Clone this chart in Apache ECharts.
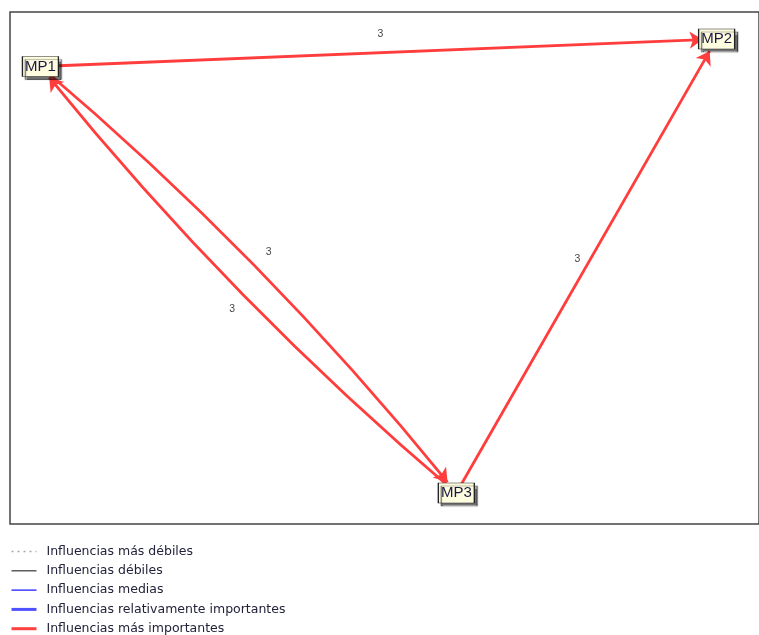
<!DOCTYPE html>
<html>
<head>
<meta charset="utf-8">
<script src="https://cdn.jsdelivr.net/npm/echarts@6/dist/echarts.min.js"></script>
<style>
html,body{margin:0;padding:0;background:#fff;}
#chart{width:759px;height:635px;}
</style>
</head>
<body>
<div id="chart"></div>
<script>
// ---- data ----
const nodeNames = ['MP1', 'MP2', 'MP3'];
const nodeX = [30.5, 708.5, 447.5];   // position in plot units (frame space)
const nodeY = [54.5, 27, 481];
const edgeSource = ['MP1', 'MP3', 'MP1', 'MP3'];
const edgeTarget = ['MP2', 'MP2', 'MP3', 'MP1'];
const edgeValue = [3, 3, 3, 3];
const legendNames = [
  'Influencias más débiles',
  'Influencias débiles',
  'Influencias medias',
  'Influencias relativamente importantes',
  'Influencias más importantes'
];

// ---- styles ----
const edgeCurve = [0, 0, 0.048, 0.048];
const labelOffset = [[2, -19], [-9, -7], [10, -18], [-6, 19]];
const legendLineStyles = [
  {color: '#a8a8a8', width: 1.3, type: [2, 4]},
  {color: '#444444', width: 1.3, type: 'solid'},
  {color: '#1f1fff', width: 1.3, type: 'solid'},
  {color: '#5050ff', width: 3, type: 'solid'},
  {color: '#ff4040', width: 3, type: 'solid'}
];
const RED = '#ff3d3d';

const chart = echarts.init(document.getElementById('chart'), null, {renderer: 'canvas'});

const nodes = nodeNames.map((n, i) => ({name: n, value: [nodeX[i], nodeY[i]]}));
const links = edgeSource.map((s, i) => ({
  source: s, target: edgeTarget[i], value: edgeValue[i],
  lineStyle: {curveness: edgeCurve[i]}
}));

// edge label anchor: midpoint of the (possibly curved) edge, computed from node data
function pos(name) { const i = nodeNames.indexOf(name); return [nodeX[i], nodeY[i]]; }
const labelData = edgeSource.map((s, i) => {
  const p1 = pos(s), p2 = pos(edgeTarget[i]);
  const c = edgeCurve[i];
  const mx = (p1[0] + p2[0]) / 2, my = (p1[1] + p2[1]) / 2;
  const cx = mx - (p1[1] - p2[1]) * c, cy = my - (p2[0] - p1[0]) * c;
  return {
    value: [mx + 0.5 * (cx - mx), my + 0.5 * (cy - my), edgeValue[i]],
    label: {offset: labelOffset[i]}
  };
});

const legendSeries = legendNames.map((n, i) => ({
  name: n, type: 'line', data: [], symbol: 'none',
  color: legendLineStyles[i].color,
  lineStyle: legendLineStyles[i], itemStyle: {color: legendLineStyles[i].color}
}));

chart.setOption({
  animation: false,
  backgroundColor: '#fff',
  grid: {left: 10, top: 12, right: -2, bottom: 111, show: true,
         borderColor: '#444', borderWidth: 1.5, backgroundColor: 'transparent'},
  xAxis: {type: 'value', min: 0, max: 751, show: false},
  yAxis: {type: 'value', min: 0, max: 512, inverse: true, show: false},
  legend: {
    orient: 'vertical', left: 10, top: 545, height: 130, padding: 0,
    itemWidth: 25, itemHeight: 12, itemGap: 6.3,
    selectedMode: false,
    data: legendNames,
    itemStyle: {opacity: 0},
    lineStyle: {width: 'inherit'},
    textStyle: {fontFamily: 'DejaVu Sans, sans-serif', fontSize: 12.5, lineHeight: 12,
                color: '#22223a', padding: [0, 0, 0, 5]}
  },
  series: [
    {
      type: 'graph', coordinateSystem: 'cartesian2d', layout: 'none',
      symbol: 'rect', symbolSize: [36, 20],
      edgeSymbol: ['none', 'arrow'], edgeSymbolSize: [0, 13],
      data: nodes, links: links,
      itemStyle: {color: '#fffde0', borderColor: '#222', borderWidth: 1,
                  shadowColor: 'rgba(0,0,0,0.55)', shadowBlur: 1, shadowOffsetX: 3, shadowOffsetY: 3},
      label: {show: true, position: 'inside', fontFamily: 'Liberation Sans, Arial, sans-serif',
              fontSize: 15, color: '#1a1a40'},
      lineStyle: {color: RED, width: 2.8, opacity: 1},
      emphasis: {disabled: true},
      z: 3
    },
    {
      type: 'scatter', data: labelData, symbol: 'circle', symbolSize: 1,
      itemStyle: {color: 'rgba(0,0,0,0)'}, silent: true, z: 4,
      label: {show: true, position: 'inside', formatter: p => String(p.value[2]),
              fontFamily: 'Liberation Sans, Arial, sans-serif', fontSize: 10.5, color: '#111'}
    }
  ].concat(legendSeries)
});
</script>
</body>
</html>
